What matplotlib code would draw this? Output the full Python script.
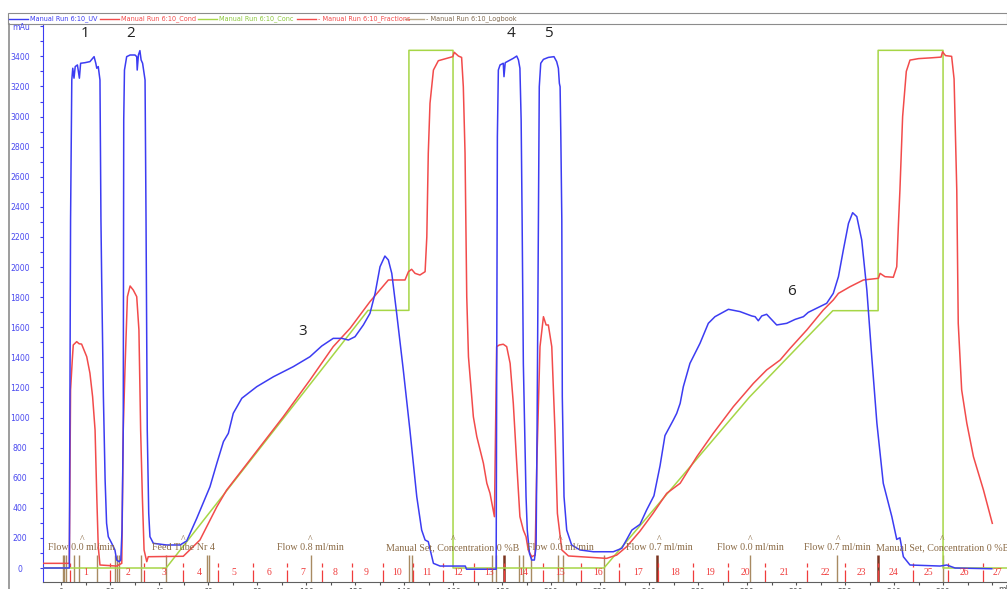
import matplotlib
matplotlib.use("Agg")
import matplotlib.pyplot as plt
from matplotlib.lines import Line2D
from matplotlib.patches import Rectangle
from matplotlib.ticker import MultipleLocator

# ---------------- data ----------------
uv_x = [-7, 3.4, 3.9, 4.4, 4.8, 5.3, 5.8, 6.7, 7.5, 8.0, 9.8, 11.8, 13.5, 14.2, 14.6, 15.2, 15.9,
        16.3, 16.6, 17.3, 18.0, 18.6, 19.3, 20.7, 22.0, 22.7, 23.7, 24.4, 24.9, 25.4, 25.6, 25.9,
        26.8, 28.2, 30.2, 30.9, 31.1, 31.6, 32.2, 32.7, 33.3, 33.9, 34.3, 34.7, 35.2, 35.8, 36.3,
        37.7, 43.1, 48.6, 51.3, 55.4, 60.8, 63.6, 66.3, 68.3, 70.3, 73.8, 79.9, 86.7, 94.8, 101.6,
        106.4, 111.1, 114.6, 117.3, 120.0, 123.4, 126.1, 128.2, 130.2, 132.2, 133.6, 135.0, 137.0,
        139.7, 142.4, 145.2, 147.2, 148.6, 149.9, 152.0, 154.7, 165.0, 165.5, 177.6, 178.1, 178.5,
        179.2, 180.5, 180.8, 181.3, 183.3, 184.6, 186.0, 186.7, 187.3, 187.8, 188.2, 188.7, 189.8,
        190.3, 191.2, 192.1, 193.2, 193.9, 194.3, 194.8, 195.2, 195.8, 196.9, 198.9, 201.2, 202.3,
        203.0, 203.4, 203.7, 204.0, 204.4, 204.6, 205.3, 206.4, 208.4, 211.8, 217.3, 225.4, 228.9,
        233.0, 236.3, 239.0, 242.0, 244.5, 246.5, 249.9, 251.3, 252.7, 254.0, 256.7, 260.8, 264.2,
        266.9, 272.4, 277.1, 281.9, 283.3, 284.6, 286.0, 288.0, 292.1, 296.2, 299.6, 303.0, 305.0,
        308.4, 312.5, 315.2, 317.3, 319.3, 321.4, 323.1, 324.8, 326.8, 328.9, 330.9, 333.0, 335.6,
        339.1, 341.1, 342.4, 343.8, 346.5, 358.8, 361.5, 364.9, 379.9]
uv_y = [0, 0, 2313, 3243, 3321, 3255, 3332, 3343, 3255, 3354, 3358, 3365, 3398, 3354, 3321, 3332, 3243,
        2313, 1914, 1138, 585, 297, 208, 164, 120, 53, 42, 53, 252, 917, 2977, 3309,
        3398, 3409, 3409, 3398, 3309, 3409, 3438, 3376, 3354, 3287, 3243, 2313, 917, 363, 208,
        164, 153, 153, 180, 330, 540, 696, 840, 895, 1028, 1128, 1205, 1271, 1338, 1404,
        1475, 1526, 1526, 1515, 1537, 1615, 1692, 1825, 2002, 2073, 2047, 1958, 1692,
        1316, 917, 474, 252, 186, 175, 31, 13, 13, -8, -8, 2866, 3309,
        3343, 3354, 3265, 3358, 3376, 3387, 3402, 3376, 3321, 2977, 2313, 1360, 474,
        252, 97, 53, 53, 142, 917, 2246, 3198, 3354, 3380, 3393, 3398, 3365,
        3321, 3221, 3198, 2866, 2313, 1138, 474, 252, 153, 120, 108, 108, 131,
        252, 290, 385, 480, 680, 880, 983, 1028, 1094, 1205, 1360, 1493, 1626,
        1670, 1719, 1704, 1675, 1670, 1643, 1675, 1686, 1615, 1626, 1652, 1670, 1699,
        1726, 1759, 1825, 1936, 2113, 2290, 2361, 2335, 2180, 1847, 1404, 962, 563,
        341, 190, 201, 75, 20, 13, 20, 0, -5]

cond_x = [-7, 3.4, 3.9, 4.6, 5.0, 6.4, 7.4, 8.4, 10.5, 11.8, 12.9, 13.9, 14.6, 15.2, 15.9, 22.7, 24.8,
          25.4, 26.1, 27.1, 28.2, 29.5, 30.9, 31.8, 32.5, 33.2, 33.9, 35.0, 35.6, 49.9, 56.7, 63.6,
          67.6, 77.1, 90.7, 101.6, 111.1, 118.0, 126.1, 133.6, 140.4, 141.8, 143.1, 144.5, 146.5,
          148.6, 149.3, 149.9, 150.6, 152.0, 154.0, 157.4, 159.9, 160.5, 162.2, 163.5, 164.2, 164.9,
          165.6, 166.3, 168.3, 169.7, 172.4, 173.8, 175.1, 176.9, 177.8, 178.9, 180.5, 181.9, 183.3,
          184.6, 186.0, 187.3, 188.7, 189.8, 190.7, 192.1, 193.5, 194.2, 195.5, 196.9, 198.0, 198.9,
          200.3, 201.6, 202.6, 204.4, 207.1, 215.9, 222.7, 226.8, 230.9, 236.3, 241.5, 247.2, 252.7,
          259.5, 266.2, 274.4, 282.6, 288.0, 293.5, 297.6, 304.4, 311.1, 315.2, 317.3, 322.0, 327.5,
          333.6, 334.3, 336.3, 339.7, 341.1, 341.8, 342.4, 343.5, 345.0, 346.5, 350.0, 355.0, 359.2,
          359.8, 361.0, 363.5, 364.5, 365.6, 366.2, 367.6, 369.7, 372.4, 376.5, 380.1]
cond_y = [31, 31, 1183, 1382, 1482, 1504, 1490, 1488, 1404, 1295, 1138, 917, 474, 142, 20, 13, 31,
          917, 1316, 1803, 1874, 1847, 1803, 1582, 917, 474, 120, 42, 75, 78, 186, 407,
          518, 718, 1005, 1249, 1471, 1593, 1770, 1914, 1914, 1969, 1985, 1958, 1947,
          1969, 2200, 2756, 3088, 3309, 3371, 3387, 3398, 3427, 3402, 3393, 3198, 2756,
          1803, 1404, 1005, 873, 696, 563, 496, 341, 1471, 1482, 1487, 1471, 1360,
          1094, 696, 341, 252, 208, 120, 75, 86, 696, 1471, 1670, 1615, 1615,
          1471, 917, 363, 120, 80, 71, 64, 86, 142, 245, 360, 496, 563,
          740, 895, 1072, 1227, 1316, 1382, 1460, 1582, 1714, 1781, 1825, 1869, 1914,
          1925, 1958, 1936, 1932, 2002, 2290, 2512, 3000, 3300, 3375, 3385, 3390, 3395,
          3430, 3405, 3400, 3250, 2512, 1626, 1183, 962, 740, 518, 297]

conc_x = [-7, 42.9, 125.3, 142.0, 142.0, 160.0, 160.0, 221.6, 281.0, 315.0, 333.5, 333.5, 360.0, 360.0, 386]
conc_y = [0, 0, 1712, 1712, 3440, 3440, 0, 0, 1136, 1710, 1710, 3440, 3440, 0, 0]

fraction_marks = [3.7, 20.0, 33.9, 49.8, 64.1, 78.4, 92.2, 106.5, 118.8, 131.4, 143.7, 155.9, 168.6,
                  180.8, 196.7, 212.2, 227.8, 243.7, 258.0, 272.2, 287.3, 304.5, 320.0, 333.5,
                  347.8, 362.0, 376.3]
fraction_labels = [str(i) for i in range(1, 28)]
fraction_label_x = [10.2, 27.3, 42.0, 56.3, 70.6, 84.9, 98.8, 111.8, 124.5, 137.1, 149.4, 162.0, 174.7,
                    188.6, 203.7, 219.2, 235.5, 250.6, 264.9, 279.2, 295.1, 311.8, 326.5, 339.6,
                    353.9, 368.6, 382.0]

logbook_marks = [0.8, 1.4, 2.0, 5.3, 7.3, 14.7, 22.0, 22.9, 23.7, 32.7, 42.9, 59.6, 60.6, 102.0,
                 142.0, 143.3, 175.9, 177.6, 187.0, 188.6, 191.8, 202.9, 204.9, 221.6, 281.2,
                 316.7, 360.0]
logbook_strong = [180.6, 243.3, 333.5]
logbook_text = ["Flow 0.0 ml/min", "Feed Tube Nr 4", "Flow 0.8 ml/min",
                "Manual Set, Concentration 0 %B", "Flow 0.0 ml/min", "Flow 0.7 ml/min",
                "Flow 0.0 ml/min", "Flow 0.7 ml/min", "Manual Set, Concentration 0 %B"]
logbook_text_x = [8.5, 50.0, 101.8, 160.0, 203.7, 244.1, 281.4, 317.0, 359.8]

peak_labels = ["1", "2", "3", "4", "5", "6"]
peak_x = [9.8, 28.6, 98.8, 183.7, 198.8, 298.0]
peak_y = [3500, 3500, 1520, 3500, 3500, 1790]

x_ticks = list(range(0, 361, 20))
y_ticks = list(range(0, 3401, 200))

legend_labels = ["Manual Run 6:10_UV", "Manual Run 6:10_Cond", "Manual Run 6:10_Conc",
                 "- Manual Run 6:10_Fractions", "- Manual Run 6:10_Logbook"]

# ---------------- style ----------------
C_UV = "#3c3cf2"
C_COND = "#f24b4b"
C_CONC = "#a6d646"
C_LOG = "#a88a62"
C_LOGTXT = "#8a6a45"
C_STRONG = "#7a3420"
C_FRAC = "#f03c3c"

W, H = 1007, 589
fig = plt.figure(figsize=(W / 100, H / 100), dpi=100)
ax = fig.add_axes([43 / W, (H - 582) / H, (W - 43) / W, (582 - 24) / H])
ax.set_xlim(-7.35, 386.1)
ax.set_ylim(-93, 3615)

# logbook marks
ax.vlines(logbook_marks, -93, 85, color=C_LOG, lw=1.0, zorder=1)
ax.vlines(logbook_strong, -93, 85, color=C_STRONG, lw=1.8, zorder=1)
# fraction marks
ax.vlines(fraction_marks, -93, -13, color=C_FRAC, lw=0.9, zorder=1)
ax.vlines(fraction_marks, 7, 33, color=C_FRAC, lw=0.9, zorder=1)

ax.plot(conc_x, conc_y, color=C_CONC, lw=1.1, zorder=3)
ax.plot(cond_x, cond_y, color=C_COND, lw=1.1, zorder=4)
ax.plot(uv_x, uv_y, color=C_UV, lw=1.1, zorder=5)

serif = ["Liberation Serif", "DejaVu Serif"]
for lab, xx in zip(fraction_labels, fraction_label_x):
    ax.text(xx, -33, lab, color=C_FRAC, fontsize=7, family=serif, ha="center", va="center", zorder=6)
for lab, xx in zip(logbook_text, logbook_text_x):
    ax.text(xx, 133, lab, color=C_LOGTXT, fontsize=7.2, family=serif, ha="center", va="center", zorder=6)
    ax.text(xx, 190, "^", color=C_LOGTXT, fontsize=7, family=serif, ha="center", va="center", zorder=6)

for lab, xx, yy in zip(peak_labels, peak_x, peak_y):
    ax.text(xx, yy, lab, color="#222222", fontsize=11, family=["Open Sans", "DejaVu Sans"],
            ha="center", va="bottom", zorder=7)

# axes styling
for s in ["top", "right"]:
    ax.spines[s].set_visible(False)
ax.spines["left"].set_color(C_UV)
ax.spines["bottom"].set_color("#606060")
ax.set_yticks(y_ticks)
ax.yaxis.set_minor_locator(MultipleLocator(100))
ax.tick_params(axis="y", which="both", colors=C_UV, length=2.5, width=0.8, labelsize=5.6, pad=14.0,
               labelcolor="#4a4af0")
for t in ax.get_yticklabels():
    t.set_ha("center")
ax.set_xticks(x_ticks)
ax.xaxis.set_minor_locator(MultipleLocator(10))
ax.tick_params(axis="x", which="both", colors="#505050", length=2.5, width=0.8, labelsize=5.6, pad=1.5)

# unit labels
fig.text(21 / W, 1 - 28 / H, "mAu", color="#4a4af0", fontsize=5.6, ha="center", va="center")
fig.text(1003 / W, 1 - 589 / H, "ml", color="#505050", fontsize=5.6, ha="center", va="center")

# window frame and legend box
fig.add_artist(Rectangle((8 / W, 1 - 23.5 / H), (W - 8) / W, 10.5 / H, transform=fig.transFigure,
                         fill=False, edgecolor="#8c8c8c", lw=0.8))
fig.add_artist(Line2D([9 / W, 9 / W], [0, 1 - 23.5 / H], transform=fig.transFigure, color="#8c8c8c", lw=1.2))

leg_colors = [C_UV, C_COND, C_CONC, C_COND, "#b9a98a"]
leg_text_colors = [C_UV, C_COND, "#8cc83c", C_COND, "#806a50"]
leg_line_start = [9, 100, 198, 297, 405]
ly = 1 - 18.5 / H
for lab, lc, tc, x0 in zip(legend_labels, leg_colors, leg_text_colors, leg_line_start):
    fig.add_artist(Line2D([x0 / W, (x0 + 19) / W], [ly, ly], transform=fig.transFigure, color=lc, lw=1.0))
    fig.text((x0 + 21) / W, ly, lab, color=tc, fontsize=4.7, ha="left", va="center")

fig.savefig("out.png", dpi=100)
